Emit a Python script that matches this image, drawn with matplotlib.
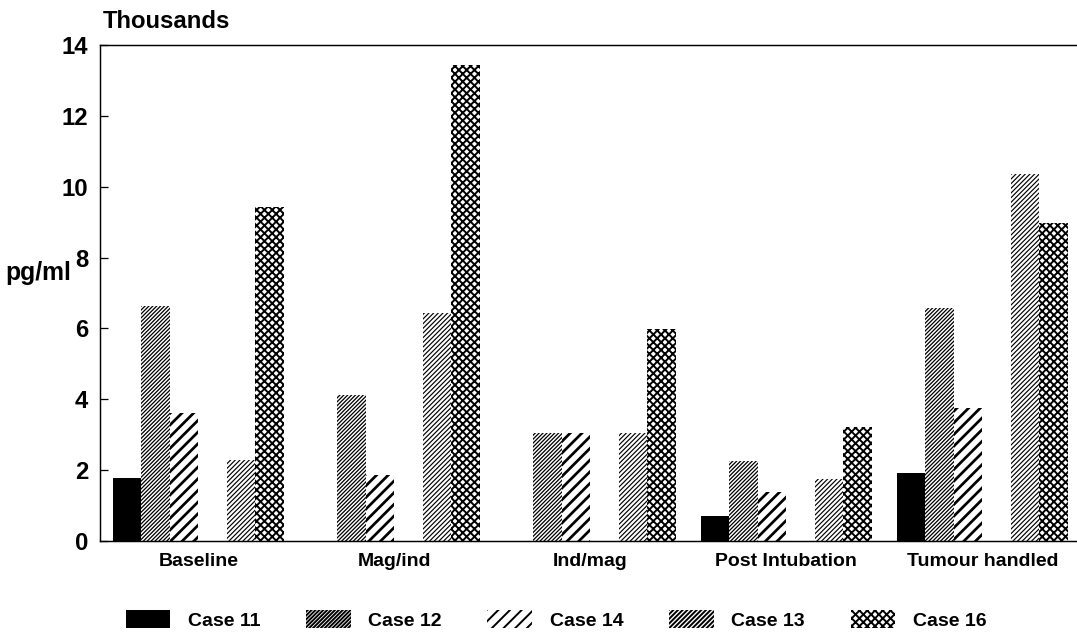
import matplotlib
matplotlib.use("Agg")
import matplotlib.pyplot as plt
from matplotlib.patches import Patch

# values, in thousands of pg/ml
stages = ["Baseline", "Mag/ind", "Ind/mag", "Post Intubation", "Tumour handled"]
cases = ["Case 11", "Case 12", "Case 14", "Case 13", "Case 16"]
case11 = [1.78, 0.0, 0.0, 0.71, 1.92]
case12 = [6.63, 4.12, 3.05, 2.26, 6.58]
case14 = [3.61, 1.86, 3.05, 1.38, 3.75]
case13 = [2.29, 6.44, 3.05, 1.75, 10.37]
case16 = [9.43, 13.44, 5.98, 3.22, 8.98]
yticks = [0, 2, 4, 6, 8, 10, 12, 14]

series = [case11, case12, case14, case13, case16]
# slot index inside each group (slot 3 is left empty in the original)
slots = [0, 1, 2, 4, 5]
hatches = [None, "//////", "//", "/////", "xxx"]
hatch_lw = [1.0, 1.3, 2.8, 1.2, 2.0]

plt.rcParams["font.family"] = ["Liberation Sans", "DejaVu Sans"]
plt.rcParams["font.weight"] = "bold"

DPI = 70
fig = plt.figure(figsize=(1077 / DPI, 637 / DPI), dpi=DPI)
ax = fig.add_axes([100 / 1077, 1 - 541 / 637, 977 / 1077, (541 - 45) / 637])

width = 0.1454
offset = 0.066
legend_handles = []
for k, vals in enumerate(series):
    xs = [i + offset + slots[k] * width for i in range(len(stages))]
    plt.rcParams["hatch.linewidth"] = hatch_lw[k]
    if hatches[k] is None:
        bars = ax.bar(xs, vals, width=width, align="edge", color="black",
                      linewidth=0)
        h = Patch(facecolor="black", edgecolor="black", linewidth=0)
    else:
        bars = ax.bar(xs, vals, width=width, align="edge", color="white",
                      edgecolor="black", hatch=hatches[k], linewidth=0)
        h = Patch(facecolor="white", edgecolor="black", hatch=hatches[k],
                  linewidth=0)
    for b in bars:
        if hasattr(b, "set_hatch_linewidth"):
            b.set_hatch_linewidth(hatch_lw[k])
    if hasattr(h, "set_hatch_linewidth"):
        h.set_hatch_linewidth(hatch_lw[k])
    legend_handles.append(h)

ax.set_xlim(0, 977 / 196)
ax.set_ylim(0, 14)
ax.set_yticks(yticks)
ax.set_yticklabels([str(v) for v in yticks], fontsize=24.5, fontweight="bold")
ax.tick_params(axis="y", direction="in", length=8, width=1.3, pad=12)

ax.set_xticks([i + offset + 3 * width for i in range(len(stages))])
ax.set_xticklabels(stages, fontsize=20, fontweight="bold")
ax.tick_params(axis="x", length=0, pad=12)

ax.spines["right"].set_visible(False)
for s in ["left", "bottom", "top"]:
    ax.spines[s].set_linewidth(1.5)

fig.text(103 / 1077, 1 - 22 / 637, "Thousands", fontsize=24.5, fontweight="bold",
         ha="left", va="center")
fig.text(5 / 1077, 1 - 273 / 637, "pg/ml", fontsize=25.5, fontweight="bold",
         ha="left", va="center")

fig.legend(legend_handles, cases, loc="center",
           bbox_to_anchor=(556 / 1077, 1 - 620 / 637), ncol=5, frameon=False,
           fontsize=20, handlelength=2.3, handleheight=1.0,
           handletextpad=0.9, columnspacing=2.35)

fig.savefig("out.png", dpi=DPI, facecolor="white")
